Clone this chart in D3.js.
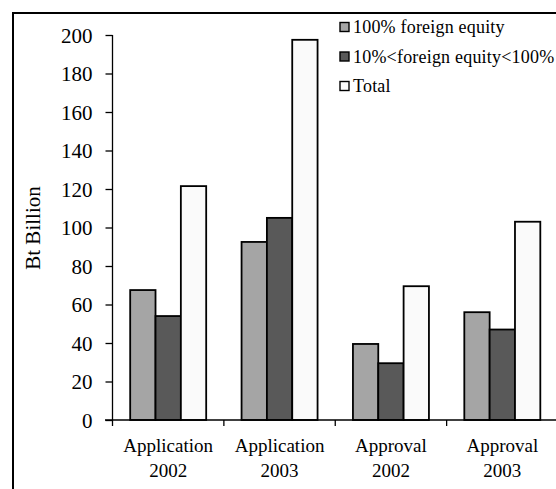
<!DOCTYPE html>
<html>
<head>
<meta charset="utf-8">
<script src="https://cdn.jsdelivr.net/npm/d3@7/dist/d3.min.js"></script>
<style>
  html, body { margin: 0; padding: 0; background: #fff; }
  svg { display: block; }
  svg text { font-family: "Liberation Serif", "DejaVu Serif", serif !important; fill: #000; }
</style>
</head>
<body>
<svg id="chart" width="556" height="489"></svg>
<script>
// Investment by foreign equity share, Bt billion
const categories = [["Application", "2002"], ["Application", "2003"], ["Approval", "2002"], ["Approval", "2003"]];
const seriesNames = ["100% foreign equity", "10%<foreign equity<100%", "Total"];
const fullForeign = [67.5, 92.5, 39.5, 56];
const partForeign = [54, 105, 29.5, 47];
const totals = [121.5, 197.5, 69.5, 103];
const yTicks = [0, 20, 40, 60, 80, 100, 120, 140, 160, 180, 200];

const series = [fullForeign, partForeign, totals];
const colors = ["#a5a5a5", "#595959", "#fafafa"];
const serif = "'Liberation Serif', 'DejaVu Serif', serif";

const svg = d3.select("#chart");

// outer frame
svg.append("path")
  .attr("d", "M13,489 V13 H556")
  .attr("fill", "none").attr("stroke", "#000").attr("stroke-width", 2);

const x0 = d3.scaleBand().domain(d3.range(categories.length)).range([112.5, 558]).paddingInner(0).paddingOuter(0);
const groupW = 76;
const x1 = d3.scaleBand().domain(d3.range(series.length)).range([0, groupW]).padding(0);
const y = d3.scaleLinear().domain([0, 200]).range([420, 35]);

// bars
series.forEach((vals, s) => {
  svg.append("g").selectAll("rect").data(vals).join("rect")
    .attr("x", (d, i) => x0(i) + (x0.bandwidth() - groupW) / 2 + x1(s))
    .attr("y", d => y(d))
    .attr("width", x1.bandwidth())
    .attr("height", d => y(0) - y(d))
    .attr("fill", colors[s])
    .attr("stroke", "#000")
    .attr("stroke-width", 1.8);
});

// y axis
const yAxis = svg.append("g").attr("transform", "translate(112.5,0)")
  .call(d3.axisLeft(y).tickValues(yTicks).tickSize(7).tickPadding(13));
yAxis.attr("font-family", null).attr("font-size", null);
yAxis.select(".domain").attr("stroke-width", 1.3).attr("d", "M0," + y(200) + "V" + y(0));
yAxis.selectAll(".tick line").attr("stroke-width", 1.3);
yAxis.selectAll(".tick text").style("font-family", serif).style("font-size", "21px").attr("dy", "0.34em");

// x axis
const xAxisG = svg.append("g").attr("transform", "translate(0,420)");
xAxisG.append("line").attr("x1", 105).attr("x2", 556).attr("stroke", "#000").attr("stroke-width", 1.3);
xAxisG.selectAll(".xt").data(d3.range(categories.length)).join("line")
  .attr("x1", i => x0(i)).attr("x2", i => x0(i))
  .attr("y1", 0).attr("y2", 6)
  .attr("stroke", "#000").attr("stroke-width", 1.3);
const catText = xAxisG.selectAll(".cat").data(categories).join("text")
  .attr("text-anchor", "middle")
  .style("font-family", serif).style("font-size", "19px")
  .attr("x", (d, i) => x0(i) + x0.bandwidth() / 2);
catText.append("tspan").attr("y", 32).text(d => d[0]);
catText.append("tspan").attr("y", 57).attr("x", (d, i) => x0(i) + x0.bandwidth() / 2).text(d => d[1]);

// y axis title
svg.append("text")
  .attr("transform", "translate(40,228) rotate(-90)")
  .attr("text-anchor", "middle")
  .style("font-family", serif).style("font-size", "21px")
  .text("Bt Billion");

// legend
const legend = svg.append("g");
seriesNames.forEach((name, i) => {
  const ly = 27 + i * 29.5;
  legend.append("rect")
    .attr("x", 340).attr("y", ly - 4.5).attr("width", 9).attr("height", 9)
    .attr("fill", colors[i]).attr("stroke", "#000").attr("stroke-width", 1.4);
  legend.append("text")
    .attr("x", 353).attr("y", ly).attr("dy", "0.35em")
    .style("font-family", serif).style("font-size", "18px")
    .style("letter-spacing", "0.2px")
    .text(name);
});
</script>
</body>
</html>
